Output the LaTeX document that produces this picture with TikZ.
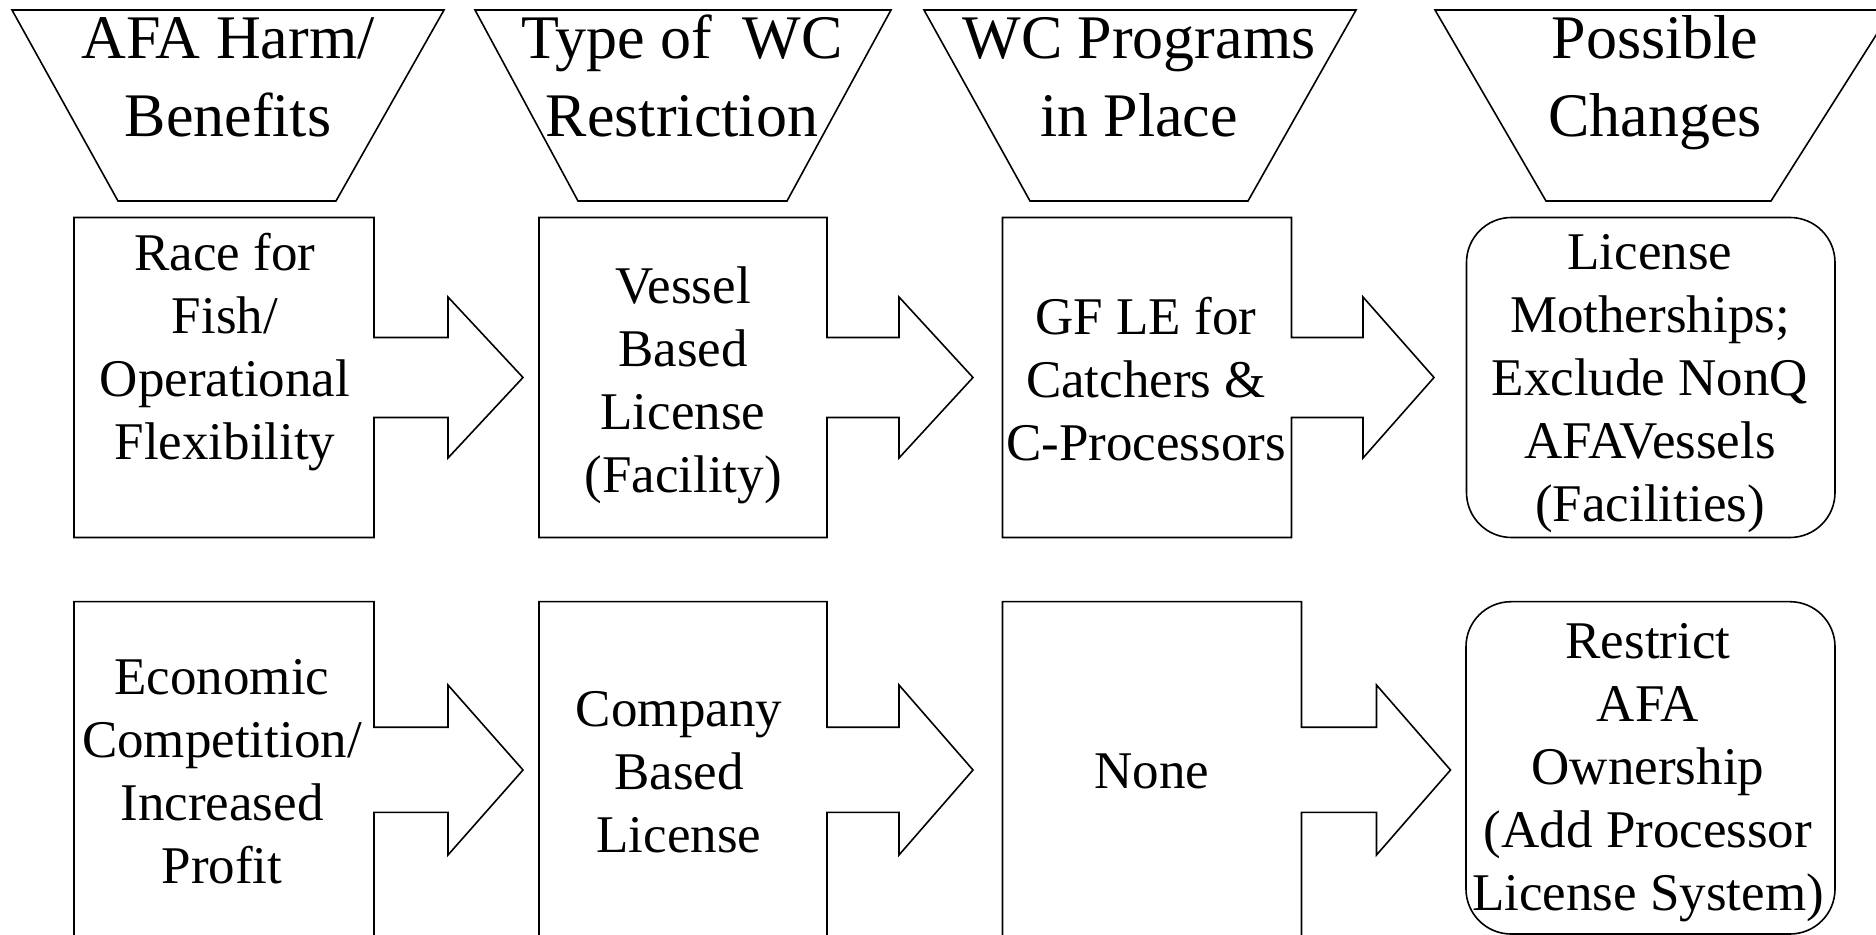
\documentclass[tikz,border=0pt]{standalone}
\usepackage{fontspec}
\setmainfont{Liberation Serif}

\tikzset{
  hdr/.style={align=center, font=\fontsize{31}{39}\selectfont, inner sep=0pt, anchor=base},
  lbl/.style={align=center, font=\fontsize{26.5}{31.5}\selectfont, inner sep=0pt, anchor=base},
  outline/.style={draw, line width=0.8pt, line join=miter}
}

\begin{document}
\begin{tikzpicture}[x=0.5pt, y=-0.5pt]
  \useasboundingbox (0,0) rectangle (1876,935);
  \clip (0,0) rectangle (1876,935);

  % column heads
  \draw[outline] (12,10) -- (444,10) -- (336,201) -- (118,201) -- cycle;
  \draw[outline] (475,10) -- (891,10) -- (787,201) -- (578,201) -- cycle;
  \draw[outline] (924,10) -- (1356,10) -- (1248,201) -- (1030,201) -- cycle;
  \draw[outline] (1435,10) -- (1892,10) -- (1771,201) -- (1546,201) -- cycle;

  % (anchor base = baseline of the last line)
  \node[hdr] (h1) at (228,137) {AFA Harm/\\Benefits};
  \node[hdr] (h2) at (682,137) {Type of\ \ WC\\Restriction};
  \node[hdr] (h3) at (1139,137) {WC Programs\\in Place};
  \node[hdr] (h4) at (1655,137) {Possible\\Changes};

  % first row
  \draw[outline] (374,417.5) -- (374,537.5) -- (74,537.5) -- (74,217.5) -- (374,217.5) -- (374,337.5)
    -- (448,337.5) -- (448,297) -- (523,377.5) -- (448,458) -- (448,417.5) -- cycle;
  \draw[outline] (827,417.5) -- (827,537.5) -- (539,537.5) -- (539,217.5) -- (827,217.5) -- (827,337.5)
    -- (899,337.5) -- (899,297) -- (973,377.5) -- (899,458) -- (899,417.5) -- cycle;
  \draw[outline] (1291.5,417.5) -- (1291.5,537.5) -- (1002.5,537.5) -- (1002.5,217.5) -- (1291.5,217.5) -- (1291.5,337.5)
    -- (1363,337.5) -- (1363,297) -- (1434,377.5) -- (1363,458) -- (1363,417.5) -- cycle;
  \draw[outline, rounded corners=22.5pt] (1466.5,217.5) rectangle (1835,537.5);

  \node[lbl] (a1) at (225,460) {Race for\\Fish/\\Operational\\Flexibility};
  \node[lbl] (a2) at (683,492.9) {Vessel\\Based\\License\\(Facility)};
  \node[lbl] (a3) at (1146,460.7) {GF LE for\\Catchers \&\\C-Processors};
  \node[lbl] (a4) at (1650,521.7) {License\\Motherships;\\Exclude NonQ\\AFAVessels\\(Facilities)};

  % second row
  \draw[outline] (374,812.3) -- (374,960) -- (74,960) -- (74,601.7) -- (374,601.7) -- (374,727.3)
    -- (448,727.3) -- (448,685) -- (523,770) -- (448,855) -- (448,812.3) -- cycle;
  \draw[outline] (827,812.3) -- (827,960) -- (539,960) -- (539,601.7) -- (827,601.7) -- (827,727.3)
    -- (899,727.3) -- (899,685) -- (973,770) -- (899,855) -- (899,812.3) -- cycle;
  \draw[outline] (1301.5,812.3) -- (1301.5,960) -- (1002.5,960) -- (1002.5,601.7) -- (1301.5,601.7) -- (1301.5,727.3)
    -- (1376.5,727.3) -- (1376.5,685) -- (1450.5,770) -- (1376.5,855) -- (1376.5,812.3) -- cycle;
  \draw[outline, rounded corners=22.5pt] (1466,601.7) rectangle (1835,934);

  \node[lbl] (b1) at (222,883.3) {Economic\\Competition/\\Increased\\Profit};
  \node[lbl] (b2) at (679,852.7) {Company\\Based\\License};
  \node[lbl] (b3) at (1152,788.3) {None};
  \node[lbl] (b4) at (1648,910) {Restrict\\AFA\\Ownership\\(Add Processor\\License System)};
\end{tikzpicture}
\end{document}
